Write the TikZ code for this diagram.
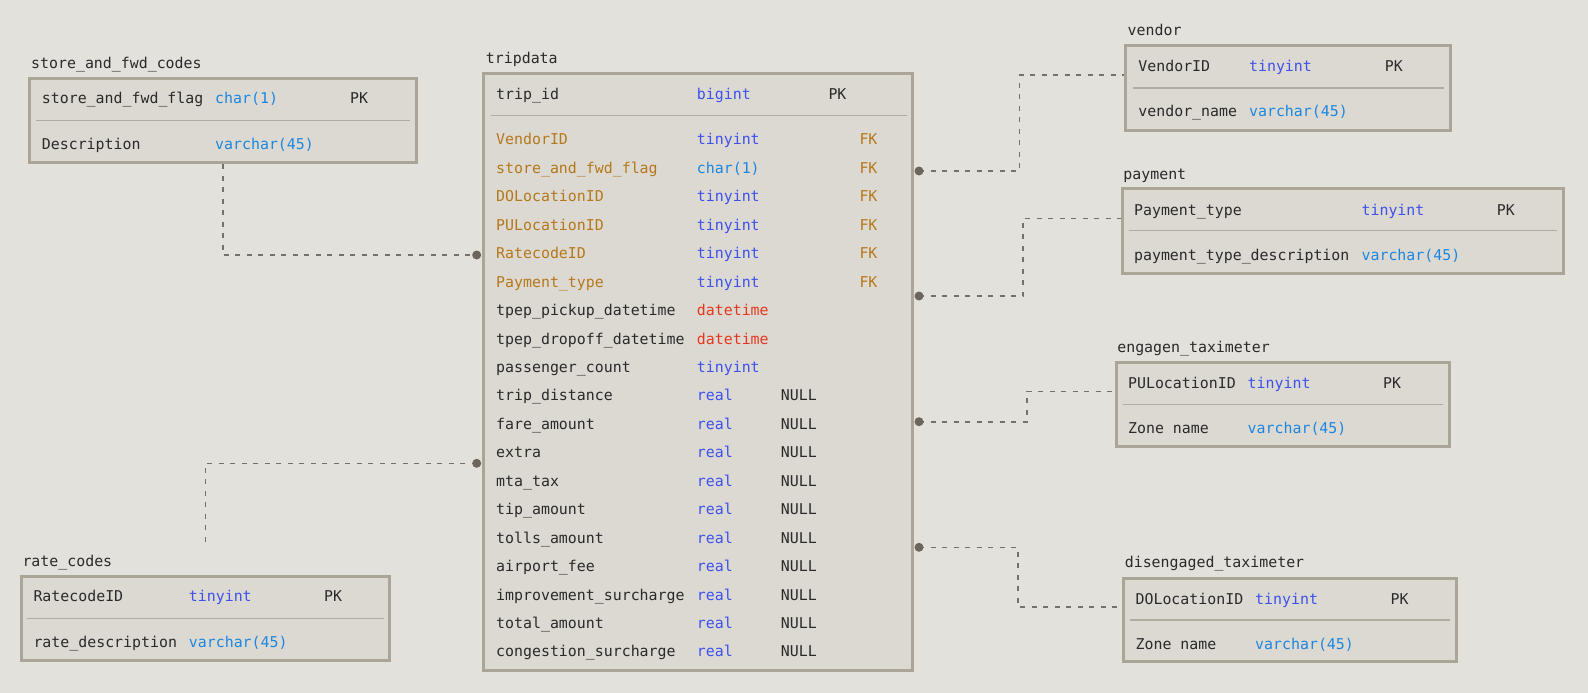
\documentclass[tikz,border=0pt]{standalone}
\usepackage{fontspec}
\setmainfont{DejaVu Sans Mono}
\begin{document}
\fontsize{14.9}{17}\selectfont
\begin{tikzpicture}[x=1pt,y=-1pt,
  tbl/.style={draw=boxbd, fill=boxfill, line width=3pt, inner sep=0pt, rectangle},
  sepl/.style={draw=sepc, line width=1.4pt},
  ttl/.style={anchor=base west, inner sep=0pt, text=txtc},
  txt/.style={anchor=mid west, inner sep=0pt, text=txtc, yshift=-1.8pt},
  fkn/.style={txt, text=fkc},
  tiny/.style={txt, text=tinyc},
  varc/.style={txt, text=varcc},
  dtm/.style={txt, text=dtc},
  conn/.style={draw=connc, line width=1.6pt, dash pattern=on 5pt off 6.5pt},
  dotn/.style={circle, fill=dotc, minimum size=9pt, inner sep=0pt}]
\definecolor{bgc}{HTML}{E2E1DC}
\definecolor{boxfill}{HTML}{DCD9D2}
\definecolor{boxbd}{HTML}{AAA597}
\definecolor{sepc}{HTML}{B0ACA0}
\definecolor{txtc}{HTML}{2A2A2A}
\definecolor{fkc}{HTML}{B5781A}
\definecolor{tinyc}{HTML}{3D51EE}
\definecolor{varcc}{HTML}{1C87E0}
\definecolor{dtc}{HTML}{E4381E}
\definecolor{connc}{HTML}{757069}
\definecolor{dotc}{HTML}{6B655E}
\newcommand\tblbox[5]{\node[tbl, minimum width={(#4-#2-3)*1pt}, minimum height={(#5-#3-3)*1pt}] (#1) at ({(#2+#4)/2},{(#3+#5)/2}) {};}
% background
\fill[bgc] (0,0) rectangle (1588,693);
\useasboundingbox (0,0) rectangle (1588,693);

% dot positions
\coordinate (c-store) at (476.7,255);
\coordinate (c-rate) at (476.7,463.3);
\coordinate (c-vendor) at (919,171);
\coordinate (c-pay) at (919,296);
\coordinate (c-eng) at (919,421.7);
\coordinate (c-dis) at (919,547.3);

% connector ends
\coordinate (s-out) at (222.7,164);
\coordinate (r-end) at (205.3,548.3);
\coordinate (v-in) at (1124.3,75);
\coordinate (p-in) at (1120.7,218.3);
\coordinate (e-in) at (1114.6,391.3);
\coordinate (d-in) at (1122.1,607);

% connectors
\draw[conn] (s-out) |- (c-store);
\draw[conn] (c-rate) -| (r-end);
\draw[conn] (c-vendor) -- ++(100.6,0) |- (v-in);
\draw[conn] (c-pay) -- ++(104.2,0) |- (p-in);
\draw[conn] (c-eng) -- ++(107.8,0) |- (e-in);
\draw[conn] (c-dis) -- ++(98.9,0) |- (d-in);

% ---------- store_and_fwd_codes
\node[ttl] (t-store) at (31,69) {store\_and\_fwd\_codes};
\tblbox{store}{27.7}{76.7}{418}{164.3}
\draw[sepl] (36,120.7) -- (410,120.7);
\node[txt] (s1n) at (41.7,98) {store\_and\_fwd\_flag};
\node[varc] (s1t) at (215,98) {char(1)};
\node[txt] (s1k) at (350,98) {PK};
\node[txt] (s2n) at (41.7,144) {Description};
\node[varc] (s2t) at (215,144) {varchar(45)};

% ---------- rate_codes
\node[ttl] (t-rate) at (22.3,566.7) {rate\_codes};
\tblbox{rate}{19.7}{575}{391.3}{661.7}
\draw[sepl] (27.3,618.7) -- (384,618.7);
\node[txt] (r1n) at (33.3,596) {RatecodeID};
\node[tiny] (r1t) at (188.7,596) {tinyint};
\node[txt] (r1k) at (324,596) {PK};
\node[txt] (r2n) at (33.3,641.3) {rate\_description};
\node[varc] (r2t) at (188.7,641.3) {varchar(45)};

% ---------- tripdata
\node[ttl] (t-trip) at (485.7,64) {tripdata};
\tblbox{trip}{482.3}{71.7}{914.3}{671.7}
\draw[sepl] (490.7,115.7) -- (906.7,115.7);
\node[txt] (p0n) at (496,93.3) {trip\_id};
\node[tiny] (p0t) at (696.7,93.3) {bigint};
\node[txt] (p0k) at (828.3,93.3) {PK};
\node[fkn] (f0n) at (496,139) {VendorID};
\node[tiny] (f0t) at (696.7,139) {tinyint};
\node[fkn] (f0k) at (859.3,139) {FK};
\node[fkn] (f1n) at (496,167.45) {store\_and\_fwd\_flag};
\node[varc] (f1t) at (696.7,167.45) {char(1)};
\node[fkn] (f1k) at (859.3,167.45) {FK};
\node[fkn] (f2n) at (496,195.9) {DOLocationID};
\node[tiny] (f2t) at (696.7,195.9) {tinyint};
\node[fkn] (f2k) at (859.3,195.9) {FK};
\node[fkn] (f3n) at (496,224.35) {PULocationID};
\node[tiny] (f3t) at (696.7,224.35) {tinyint};
\node[fkn] (f3k) at (859.3,224.35) {FK};
\node[fkn] (f4n) at (496,252.8) {RatecodeID};
\node[tiny] (f4t) at (696.7,252.8) {tinyint};
\node[fkn] (f4k) at (859.3,252.8) {FK};
\node[fkn] (f5n) at (496,281.25) {Payment\_type};
\node[tiny] (f5t) at (696.7,281.25) {tinyint};
\node[fkn] (f5k) at (859.3,281.25) {FK};
\node[txt] (f6n) at (496,309.7) {tpep\_pickup\_datetime};
\node[dtm] (f6t) at (696.7,309.7) {datetime};
\node[txt] (f7n) at (496,338.15) {tpep\_dropoff\_datetime};
\node[dtm] (f7t) at (696.7,338.15) {datetime};
\node[txt] (f8n) at (496,366.6) {passenger\_count};
\node[tiny] (f8t) at (696.7,366.6) {tinyint};
\foreach \nm [count=\i from 9] in {trip\_distance, fare\_amount, extra, mta\_tax, tip\_amount, tolls\_amount, airport\_fee, improvement\_surcharge, total\_amount, congestion\_surcharge}{
  \node[txt] (f\i n) at (496,{139+28.45*\i}) {\nm};
  \node[tiny] (f\i t) at (696.7,{139+28.45*\i}) {real};
  \node[txt] (f\i k) at (780.7,{139+28.45*\i}) {NULL};
}

% ---------- vendor
\node[ttl] (t-vendor) at (1127.5,36) {vendor};
\tblbox{vendor}{1124.3}{44}{1452.1}{132.3}
\draw[sepl] (1132.9,88) -- (1444.3,88);
\node[txt] (v1n) at (1138.2,66) {VendorID};
\node[tiny] (v1t) at (1248.9,66) {tinyint};
\node[txt] (v1k) at (1384.6,66) {PK};
\node[txt] (v2n) at (1138.2,111) {vendor\_name};
\node[varc] (v2t) at (1248.9,111) {varchar(45)};

% ---------- payment
\node[ttl] (t-pay) at (1123.2,179) {payment};
\tblbox{pay}{1120.7}{186.7}{1565}{275.3}
\draw[sepl] (1128.6,230.7) -- (1556.7,230.7);
\node[txt] (y1n) at (1133.9,209.3) {Payment\_type};
\node[tiny] (y1t) at (1361.4,209.3) {tinyint};
\node[txt] (y1k) at (1496.7,209.3) {PK};
\node[txt] (y2n) at (1133.9,254.6) {payment\_type\_description};
\node[varc] (y2t) at (1361.4,254.6) {varchar(45)};

% ---------- engagen_taximeter
\node[ttl] (t-eng) at (1117.1,352.7) {engagen\_taximeter};
\tblbox{eng}{1114.6}{361.3}{1450.7}{447.7}
\draw[sepl] (1122.5,404.7) -- (1442.9,404.7);
\node[txt] (e1n) at (1127.9,382.3) {PULocationID};
\node[tiny] (e1t) at (1247.5,382.3) {tinyint};
\node[txt] (e1k) at (1382.9,382.3) {PK};
\node[txt] (e2n) at (1127.9,427.3) {Zone name};
\node[varc] (e2t) at (1247.5,427.3) {varchar(45)};

% ---------- disengaged_taximeter
\node[ttl] (t-dis) at (1124.6,567.7) {disengaged\_taximeter};
\tblbox{dis}{1122.1}{576.7}{1457.9}{663.3}
\draw[sepl] (1130,620) -- (1450,620);
\node[txt] (d1n) at (1135.4,598.3) {DOLocationID};
\node[tiny] (d1t) at (1255,598.3) {tinyint};
\node[txt] (d1k) at (1390.4,598.3) {PK};
\node[txt] (d2n) at (1135.4,643.3) {Zone name};
\node[varc] (d2t) at (1255,643.3) {varchar(45)};

% dots on top
\node[dotn] (d-store) at (c-store) {};
\node[dotn] (d-rate) at (c-rate) {};
\node[dotn] (d-vendor) at (c-vendor) {};
\node[dotn] (d-pay) at (c-pay) {};
\node[dotn] (d-eng) at (c-eng) {};
\node[dotn] (d-dis) at (c-dis) {};
\end{tikzpicture}
\end{document}
